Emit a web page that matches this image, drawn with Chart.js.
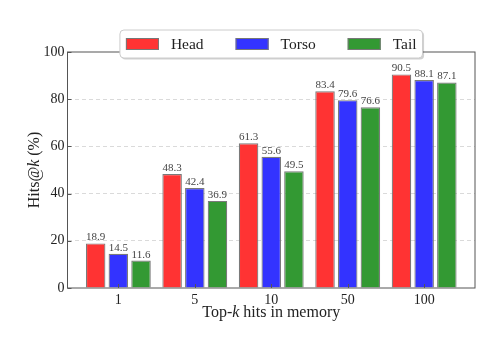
<!DOCTYPE html>
<html lang="en">
<head>
    <meta charset="UTF-8">
    <title>Hits@k</title>
    <script src="https://cdn.jsdelivr.net/npm/chart.js"></script>
    <style>
        body { margin: 0; background: #fff; }
        #wrap { width: 502px; height: 348px; }
    </style>
</head>
<body>
    <div id="wrap"><canvas id="chartHits"></canvas></div>
    <script>
        // data
        const kLabels = ["1", "5", "10", "50", "100"];
        const headHits = [18.9, 48.3, 61.3, 83.4, 90.5];
        const torsoHits = [14.5, 42.4, 55.6, 79.6, 88.1];
        const tailHits = [11.6, 36.9, 49.5, 76.6, 87.1];
        const yTicks = [0, 20, 40, 60, 80, 100];

        const serif = "'Liberation Serif', 'Times New Roman', serif";

        function toPoints(vals) {
            return vals.map((v, i) => ({ x: i, y: v }));
        }

        // value labels, frame, inward ticks, legend and axis titles
        const decor = {
            id: "decor",
            afterDatasetsDraw(chart) {
                let ctx = chart.ctx;
                ctx.save();
                ctx.font = "11px " + serif;
                ctx.fillStyle = "#444";
                ctx.textAlign = "center";
                ctx.textBaseline = "bottom";
                chart.data.datasets.forEach((ds, di) => {
                    chart.getDatasetMeta(di).data.forEach((bar, i) => {
                        ctx.fillText(ds.data[i].y.toFixed(1), bar.x, bar.y - 0.5);
                    });
                });
                ctx.restore();
            },
            afterDraw(chart) {
                let ctx = chart.ctx;
                let a = chart.chartArea;
                let xs = chart.scales.x, ys = chart.scales.y;
                ctx.save();

                // spines
                ctx.strokeStyle = "#555";
                ctx.lineWidth = 1;
                ctx.strokeRect(a.left, a.top, a.right - a.left, a.bottom - a.top);

                // inward ticks
                ctx.beginPath();
                yTicks.forEach(v => {
                    let y = Math.round(ys.getPixelForValue(v)) + 0.5;
                    ctx.moveTo(a.left, y);
                    ctx.lineTo(a.left + 4, y);
                });
                kLabels.forEach((l, i) => {
                    let x = Math.round(xs.getPixelForValue(i)) + 0.5;
                    ctx.moveTo(x, a.bottom);
                    ctx.lineTo(x, a.bottom - 4);
                });
                ctx.stroke();

                // axis titles
                let cx = (a.left + a.right) / 2;
                let cy = (a.top + a.bottom) / 2;
                drawMixed(ctx, [["Top-", false], ["k", true], [" hits in memory", false]], cx, 313, 0);
                drawMixed(ctx, [["Hits@", false], ["k", true], [" (%)", false]], 35, cy, -Math.PI / 2);

                // legend
                let items = chart.data.datasets.map(ds => ({ text: ds.label, color: ds.backgroundColor }));
                ctx.font = "15.5px " + serif;
                let hw = 33, hh = 12, gapText = 12, gapItem = 32, padX = 6;
                let total = 0;
                items.forEach((it, i) => {
                    it.w = ctx.measureText(it.text).width;
                    total += hw + gapText + it.w + (i < items.length - 1 ? gapItem : 0);
                });
                let bw = total + padX * 2, bh = 28;
                let bx = cx - bw / 2, by = 30;
                ctx.fillStyle = "rgba(0,0,0,0.18)";
                roundRect(ctx, bx + 1.5, by + 1.5, bw, bh, 4);
                ctx.fill();
                ctx.fillStyle = "#fff";
                ctx.strokeStyle = "#ccc";
                roundRect(ctx, bx, by, bw, bh, 4);
                ctx.fill();
                ctx.stroke();
                let x = bx + padX;
                let midY = by + bh / 2;
                ctx.textBaseline = "middle";
                ctx.textAlign = "left";
                items.forEach(it => {
                    ctx.fillStyle = it.color;
                    ctx.fillRect(x, midY - hh / 2, hw, hh);
                    ctx.strokeStyle = "#777";
                    ctx.strokeRect(x + 0.5, midY - hh / 2 + 0.5, hw - 1, hh - 1);
                    x += hw + gapText;
                    ctx.fillStyle = "#222";
                    ctx.fillText(it.text, x, midY + 1);
                    x += it.w + gapItem;
                });
                ctx.restore();
            }
        };

        function roundRect(ctx, x, y, w, h, r) {
            ctx.beginPath();
            ctx.moveTo(x + r, y);
            ctx.arcTo(x + w, y, x + w, y + h, r);
            ctx.arcTo(x + w, y + h, x, y + h, r);
            ctx.arcTo(x, y + h, x, y, r);
            ctx.arcTo(x, y, x + w, y, r);
            ctx.closePath();
        }

        function drawMixed(ctx, parts, x, y, rot) {
            ctx.save();
            ctx.translate(x, y);
            ctx.rotate(rot);
            ctx.fillStyle = "#222";
            ctx.textBaseline = "middle";
            ctx.textAlign = "left";
            let fonts = parts.map(p => (p[1] ? "italic " : "") + "16px " + serif);
            let w = 0;
            parts.forEach((p, i) => { ctx.font = fonts[i]; w += ctx.measureText(p[0]).width; });
            let px = -w / 2;
            parts.forEach((p, i) => {
                ctx.font = fonts[i];
                ctx.fillText(p[0], px, 0);
                px += ctx.measureText(p[0]).width;
            });
            ctx.restore();
        }

        function barSet(label, vals, color) {
            return {
                label: label,
                data: toPoints(vals),
                backgroundColor: color,
                borderColor: "#7a7a7a",
                borderWidth: 1.2,
                categoryPercentage: 0.89,
                barPercentage: 0.86
            };
        }

        let ctx = document.getElementById("chartHits").getContext("2d");
        let chart = new Chart(ctx, {
            type: "bar",
            data: {
                datasets: [
                    barSet("Head", headHits, "#ff3333"),
                    barSet("Torso", torsoHits, "#3333ff"),
                    barSet("Tail", tailHits, "#339933")
                ]
            },
            options: {
                responsive: true,
                maintainAspectRatio: false,
                animation: false,
                layout: { padding: { left: 0, right: 27, top: 52, bottom: 0 } },
                plugins: { legend: { display: false }, tooltip: { enabled: false } },
                scales: {
                    x: {
                        type: "linear",
                        offset: false,
                        min: -0.665,
                        max: 4.665,
                        afterFit: s => { s.height = 60; },
                        afterBuildTicks: s => { s.ticks = kLabels.map((l, i) => ({ value: i })); },
                        grid: { display: false, drawTicks: false },
                        border: { display: false },
                        ticks: {
                            padding: 4,
                            color: "#222",
                            font: { family: serif, size: 14 },
                            callback: v => kLabels[v]
                        }
                    },
                    y: {
                        min: 0,
                        max: 100,
                        afterFit: s => { s.width = 67.5; },
                        afterBuildTicks: s => { s.ticks = yTicks.map(v => ({ value: v })); },
                        grid: {
                            drawTicks: false,
                            color: c => (c.tick && (c.tick.value === 0 || c.tick.value === 100)) ? "rgba(0,0,0,0)" : "#d0d0d0",
                            lineWidth: 0.8
                        },
                        border: { display: false, dash: [4, 3] },
                        ticks: {
                            padding: 3,
                            color: "#222",
                            font: { family: serif, size: 14 }
                        }
                    }
                }
            },
            plugins: [decor]
        });
    </script>
</body>
</html>
